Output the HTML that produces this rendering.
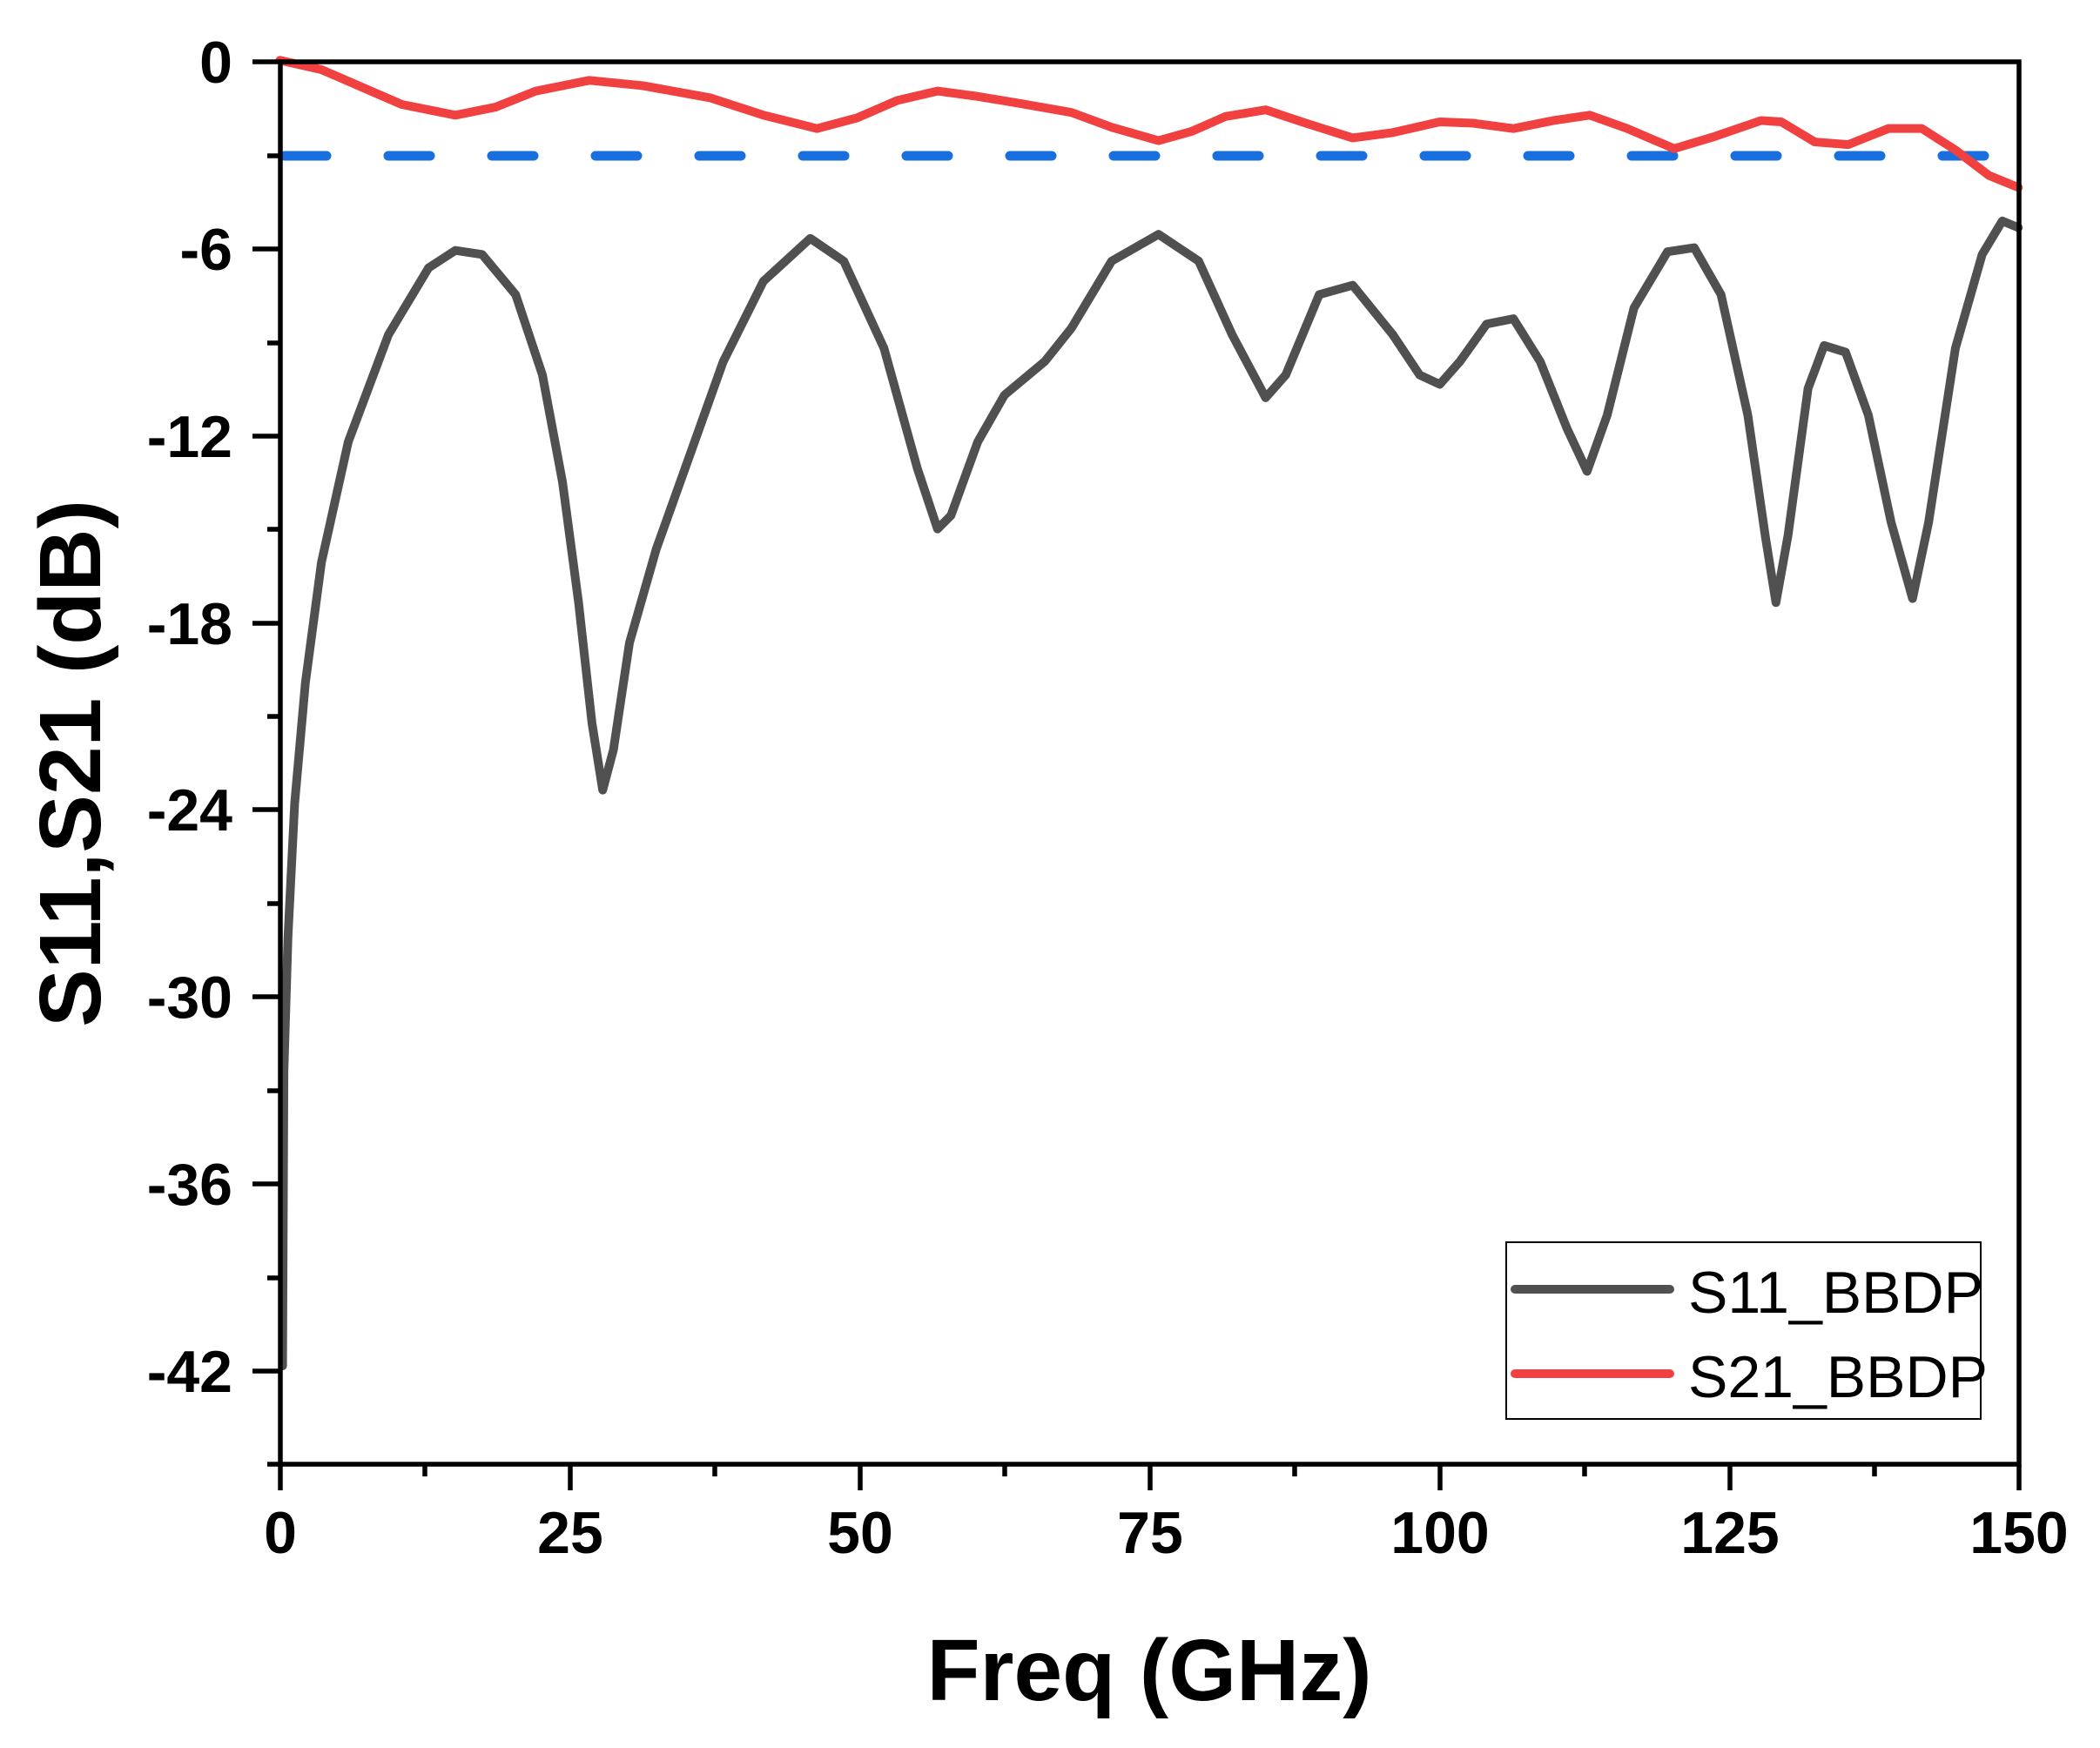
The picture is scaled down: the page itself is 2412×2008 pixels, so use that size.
<!DOCTYPE html>
<html><head><meta charset="utf-8"><style>
html,body{margin:0;padding:0;background:#fff;}
svg{display:block;}
</style></head><body>
<svg width="2412" height="2008" viewBox="0 0 2412 2008" xmlns="http://www.w3.org/2000/svg">
<rect width="2412" height="2008" fill="#fff"/>
<line x1="327" y1="179" x2="2318" y2="179" stroke="#1a6fdf" stroke-width="11" stroke-dasharray="48 71" stroke-linecap="round"/>
<g transform="scale(1.5383)" fill="none" stroke-linejoin="round" stroke-linecap="round">
<polyline stroke="#505050" stroke-width="6.5" stroke-miterlimit="1" points="211,1020 212,800 215,700 220,600 228,510 240,420 260,330 290,250 320,200 340,187 360,190 385,220 405,280 420,360 432,450 442,540 450,590 458,560 470,480 490,410 515,340 540,270 570,210 605,178 630,195 660,260 685,350 700,395 710,385 730,330 750,295 780,270 800,245 830,195 865,175 895,195 920,250 945,297 960,280 985,220 1010,213 1040,250 1060,280 1075,287 1090,270 1110,242 1130,238 1150,270 1170,320 1185,352 1200,310 1220,230 1245,188 1265,185 1285,220 1305,310 1318,400 1326,450 1335,400 1350,290 1362,258 1378,263 1395,310 1412,390 1428,447 1440,390 1460,260 1480,190 1495,165 1507,170"/>
<polyline stroke="#f04040" stroke-width="6.5" points="209,45 240,52 270,65 300,78 340,86 370,80 400,68 440,60 480,64 530,73 570,86 610,96 640,88 670,75 700,68 730,72 760,77 800,84 830,95 865,105 890,98 915,87 945,82 975,92 1010,103 1040,99 1075,91 1100,92 1130,96 1160,90 1187,86 1215,96 1250,111 1280,102 1315,90 1330,91 1355,106 1380,108 1410,96 1435,96 1460,112 1485,131 1507,140"/>
</g>
<rect x="322" y="71" width="1997" height="1611" fill="none" stroke="#000" stroke-width="5.5"/>
<g stroke="#000" stroke-width="5.5">
<line x1="290" y1="71" x2="322" y2="71"/><line x1="290" y1="286" x2="322" y2="286"/><line x1="290" y1="501" x2="322" y2="501"/><line x1="290" y1="716" x2="322" y2="716"/><line x1="290" y1="930" x2="322" y2="930"/><line x1="290" y1="1145" x2="322" y2="1145"/><line x1="290" y1="1360" x2="322" y2="1360"/><line x1="290" y1="1575" x2="322" y2="1575"/>
<line x1="307" y1="179" x2="322" y2="179"/><line x1="307" y1="394" x2="322" y2="394"/><line x1="307" y1="608" x2="322" y2="608"/><line x1="307" y1="823" x2="322" y2="823"/><line x1="307" y1="1038" x2="322" y2="1038"/><line x1="307" y1="1253" x2="322" y2="1253"/><line x1="307" y1="1468" x2="322" y2="1468"/><line x1="307" y1="1682" x2="322" y2="1682"/>
<line x1="322" y1="1682" x2="322" y2="1712"/><line x1="655" y1="1682" x2="655" y2="1712"/><line x1="988" y1="1682" x2="988" y2="1712"/><line x1="1321" y1="1682" x2="1321" y2="1712"/><line x1="1654" y1="1682" x2="1654" y2="1712"/><line x1="1987" y1="1682" x2="1987" y2="1712"/><line x1="2319" y1="1682" x2="2319" y2="1712"/>
<line x1="488" y1="1682" x2="488" y2="1696"/><line x1="821" y1="1682" x2="821" y2="1696"/><line x1="1154" y1="1682" x2="1154" y2="1696"/><line x1="1487" y1="1682" x2="1487" y2="1696"/><line x1="1820" y1="1682" x2="1820" y2="1696"/><line x1="2153" y1="1682" x2="2153" y2="1696"/>
</g>
<g font-family="Liberation Sans, sans-serif" font-weight="bold" font-size="68" fill="#000">
<g text-anchor="end">
<text x="267" y="95">0</text><text x="267" y="310">-6</text><text x="267" y="525">-12</text><text x="267" y="740">-18</text><text x="267" y="954">-24</text><text x="267" y="1169">-30</text><text x="267" y="1384">-36</text><text x="267" y="1599">-42</text>
</g>
<g text-anchor="middle">
<text x="322" y="1784">0</text><text x="655" y="1784">25</text><text x="988" y="1784">50</text><text x="1321" y="1784">75</text><text x="1654" y="1784">100</text><text x="1987" y="1784">125</text><text x="2319" y="1784">150</text>
</g>
<text x="1320" y="1953" text-anchor="middle" font-size="100">Freq (GHz)</text>
<text transform="translate(115,877) rotate(-90)" text-anchor="middle" font-size="100">S11,S21 (dB)</text>
</g>
<rect x="1730" y="1427" width="545" height="203" fill="#fff" stroke="#000" stroke-width="2"/>
<line x1="1740" y1="1481" x2="1918" y2="1481" stroke="#505050" stroke-width="10" stroke-linecap="round"/>
<line x1="1740" y1="1578" x2="1918" y2="1578" stroke="#f04040" stroke-width="10" stroke-linecap="round"/>
<g font-family="Liberation Sans, sans-serif" font-size="68" fill="#000">
<text x="1939" y="1508">S11_BBDP</text>
<text x="1939" y="1605">S21_BBDP</text>
</g>
</svg>
</body></html>
